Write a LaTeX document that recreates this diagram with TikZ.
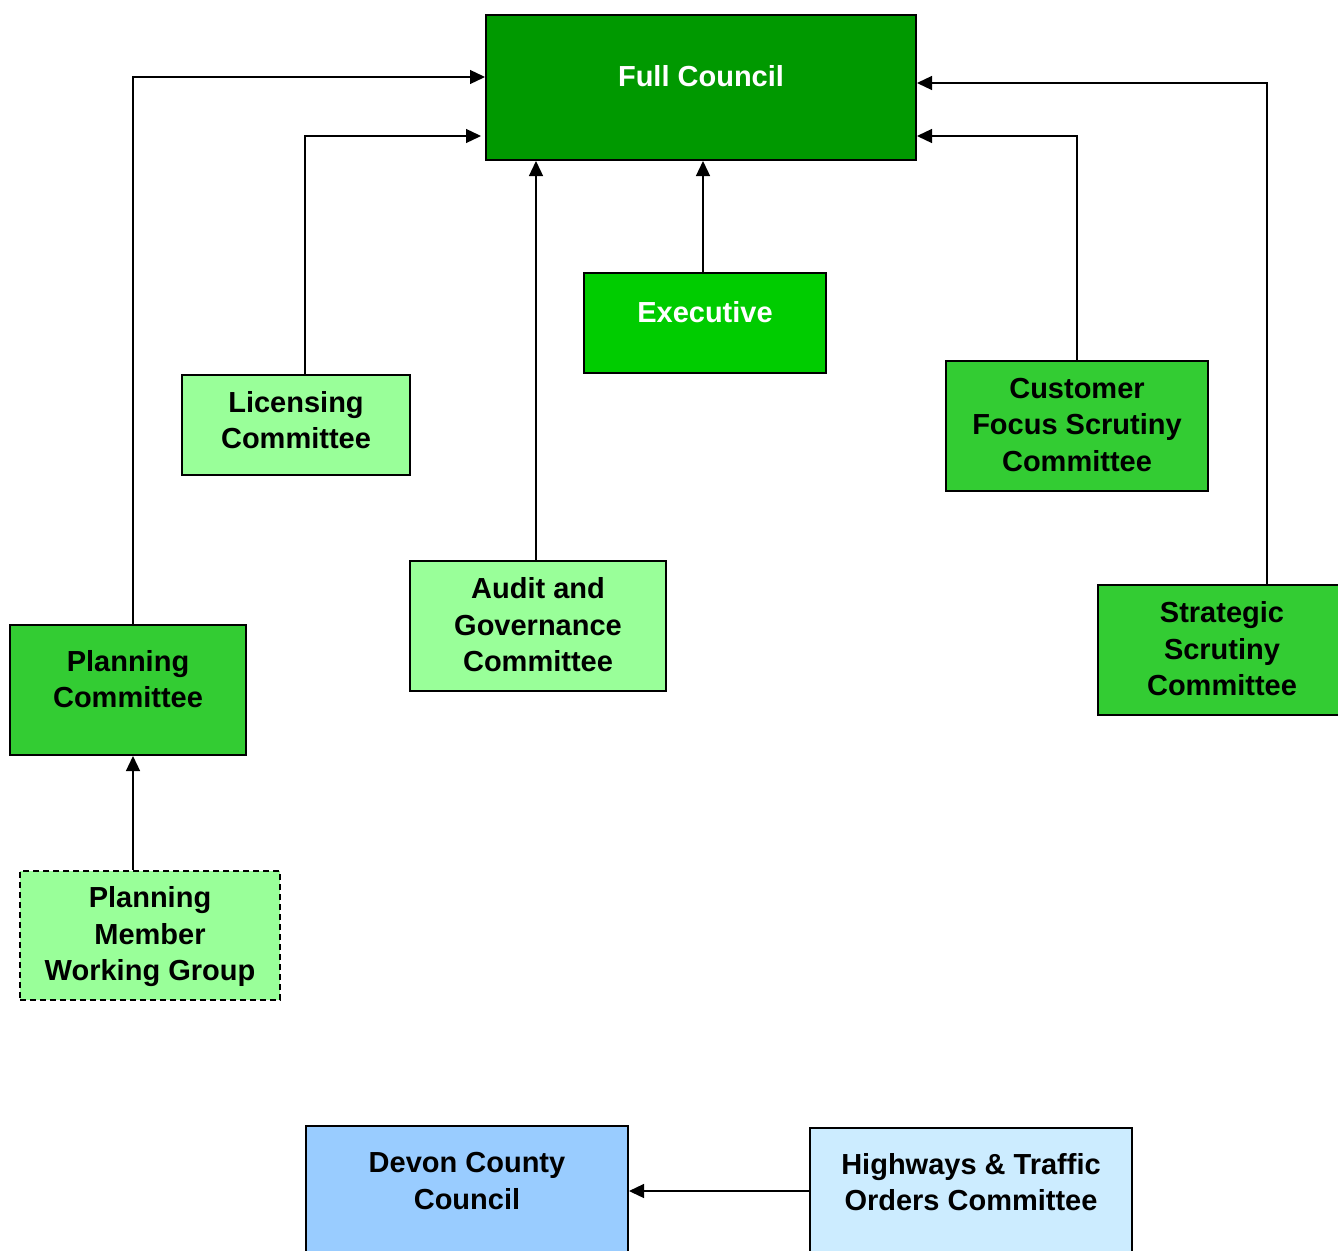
\documentclass[tikz,border=0pt]{standalone}
\usepackage{fontspec}
\setmainfont{Liberation Sans}
\usetikzlibrary{arrows.meta}
\definecolor{fcgreen}{HTML}{009900}
\definecolor{exgreen}{HTML}{00CC00}
\definecolor{midgreen}{HTML}{33CC33}
\definecolor{palegreen}{HTML}{99FF99}
\definecolor{dcblue}{HTML}{99CCFF}
\definecolor{htblue}{HTML}{CCECFF}
\begin{document}
\begin{tikzpicture}[x=1pt,y=-1pt,
		box/.style={draw=black,line width=2pt,inner sep=0pt},
		lbl/.style={font=\bfseries\fontsize{29}{36.5}\selectfont,align=center,inner sep=0pt},
		conn/.style={line width=1.3pt,-{Triangle[length=15pt,width=14pt]}}]
	\useasboundingbox (0,0) rectangle (1338,1250);
	% boxes
	\node[box,fill=fcgreen,minimum width=430pt,minimum height=145pt] (full) at (701,87.5) {};
	\node[box,fill=exgreen,minimum width=242pt,minimum height=100pt] (exec) at (705,323) {};
	\node[box,fill=palegreen,minimum width=228pt,minimum height=100pt] (lic) at (296,425) {};
	\node[box,fill=midgreen,minimum width=262pt,minimum height=130pt] (cust) at (1077,426) {};
	\node[box,fill=palegreen,minimum width=256pt,minimum height=130pt] (audit) at (538,626) {};
	\node[box,fill=midgreen,minimum width=236pt,minimum height=130pt] (plan) at (128,690) {};
	\node[box,fill=midgreen,minimum width=248pt,minimum height=130pt] (strat) at (1222,650) {};
	\node[box,fill=palegreen,dash pattern=on 6pt off 4pt,minimum width=260pt,minimum height=129pt] (pmwg) at (150,935.5) {};
	\node[box,fill=dcblue,minimum width=322pt,minimum height=130pt] (devon) at (467,1191) {};
	\node[box,fill=htblue,minimum width=322pt,minimum height=126pt] (hw) at (971,1191) {};
	% texts
	\node[lbl,text=white] (fulltxt) at (701,76) {Full Council};
	\node[lbl,text=white] (exectxt) at (705,312) {Executive};
	\node[lbl] (lictxt) at (296,420) {Licensing\\Committee};
	\node[lbl] (custtxt) at (1077,425) {Customer\\Focus Scrutiny\\Committee};
	\node[lbl] (audittxt) at (538,625) {Audit and\\Governance\\Committee};
	\node[lbl] (plantxt) at (128,679) {Planning\\Committee};
	\node[lbl] (strattxt) at (1222,649) {Strategic\\Scrutiny\\Committee};
	\node[lbl] (pmwgtxt) at (150,937) {Planning\\Member\\Working Group};
	\node[lbl] (devontxt) at (467,1181) {Devon County\\Council};
	\node[lbl] (hwtxt) at (971,1182) {Highways \& Traffic\\Orders Committee};
	% connectors
	\coordinate (planin) at ([xshift=5pt]plan.south);
	\draw[conn] ([xshift=5pt]plan.north) |- ([yshift=10.5pt]full.west);
	\draw[conn] ([xshift=9pt]lic.north) |- ([xshift=-4pt,yshift=-48.5pt]full.west);
	\draw[conn] ([xshift=-2pt]audit.north) -- ([xshift=-2pt]audit.north |- full.south);
	\draw[conn] ([xshift=-2pt]exec.north) -- ([xshift=-2pt]exec.north |- full.south);
	\draw[conn] (cust.north) |- ([yshift=-48.5pt]full.east);
	\draw[conn] ([xshift=45pt]strat.north) |- ([yshift=4.5pt]full.east);
	\draw[conn] (pmwg.north -| planin) -- (planin);
	\draw[conn] (hw.west) -- (hw.west -| devon.east);
\end{tikzpicture}
\end{document}
